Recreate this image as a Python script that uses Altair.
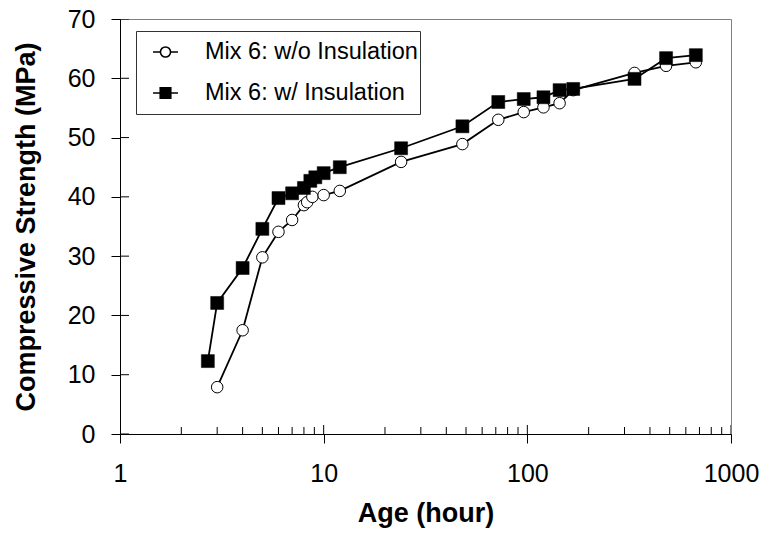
import altair as alt
import pandas as pd

# ---- data ----
series_names = ["Mix 6: w/o Insulation", "Mix 6: w/ Insulation"]

age_wo = [3, 4, 5, 6, 7, 8, 8.3, 8.8, 10, 12, 24, 48, 72, 96, 120, 144, 168, 336, 480, 672]
str_wo = [7.9, 17.5, 29.8, 34.1, 36.1, 38.6, 39.1, 40.0, 40.3, 41.0, 45.9, 48.9, 53.0, 54.3, 55.1, 55.8, 58.0, 60.9, 62.1, 62.7]

age_w = [2.7, 3, 4, 5, 6, 7, 8, 8.6, 9.1, 10, 12, 24, 48, 72, 96, 120, 144, 168, 336, 480, 672]
str_w = [12.3, 22.1, 28.0, 34.6, 39.8, 40.6, 41.5, 42.7, 43.3, 44.0, 45.0, 48.2, 51.9, 56.0, 56.5, 56.8, 58.0, 58.2, 59.9, 63.4, 63.9]

y_ticks = [0, 10, 20, 30, 40, 50, 60, 70]
x_major = [1, 10, 100, 1000]
x_minor = [2, 3, 4, 5, 6, 7, 8, 9, 20, 30, 40, 50, 60, 70, 80, 90,
           200, 300, 400, 500, 600, 700, 800, 900]

df = pd.DataFrame({
    "age": age_wo + age_w,
    "strength": str_wo + str_w,
    "series": [series_names[0]] * len(age_wo) + [series_names[1]] * len(age_w),
})
df_minor = pd.DataFrame({"v": x_minor})
df_major = pd.DataFrame({"v": x_major})
df_yt = pd.DataFrame({"v": y_ticks})

FONT = "Liberation Sans"
W, H = 611, 415

xscale = alt.Scale(type="log", domain=[1, 1000], nice=False)
yscale = alt.Scale(domain=[0, 70], nice=False, zero=False)

xaxis = alt.Axis(values=x_major, format="d", title="Age (hour)", grid=False,
                 labelFont=FONT, labelFontSize=25, labelColor="black", labelPadding=18,
                 labelFlush=False, labelOverlap=False,
                 tickSize=9, tickColor="black", tickWidth=1,
                 domainColor="black", domainWidth=1,
                 titleFont=FONT, titleFontSize=27, titleFontWeight="bold",
                 titleColor="black", titlePadding=14)
yaxis = alt.Axis(values=y_ticks, title="Compressive Strength (MPa)", grid=False,
                 labelFont=FONT, labelFontSize=25, labelColor="black", labelPadding=16,
                 tickSize=9, tickColor="black", tickWidth=1,
                 domainColor="black", domainWidth=1,
                 titleFont=FONT, titleFontSize=27, titleFontWeight="bold",
                 titleColor="black", titlePadding=27)


def X(field):
    return alt.X(field, type="quantitative", scale=xscale, axis=xaxis)


def Y(field):
    return alt.Y(field, type="quantitative", scale=yscale, axis=yaxis)


# inward ticks (clipped to plot area)
minor_ticks = alt.Chart(df_minor).mark_tick(
    orient="vertical", size=14, thickness=1, color="black", clip=True, opacity=1
).encode(x=X("v"), y=alt.YDatum(0, type="quantitative", scale=yscale, axis=yaxis))

major_ticks = alt.Chart(df_major).mark_tick(
    orient="vertical", size=18, thickness=1, color="black", clip=True, opacity=1
).encode(x=X("v"), y=alt.YDatum(0, type="quantitative", scale=yscale, axis=yaxis))

y_in_ticks = alt.Chart(df_yt).mark_tick(
    orient="horizontal", size=18, thickness=1, color="black", clip=True, opacity=1
).encode(y=Y("v"), x=alt.XDatum(1, type="quantitative", scale=xscale, axis=xaxis))

base = alt.Chart(df)

lines = base.mark_line(color="black", strokeWidth=1.8).encode(
    x=X("age"), y=Y("strength"), detail="series:N"
)

circles = base.transform_filter(
    alt.datum.series == series_names[0]
).mark_point(shape="circle", size=133, fill="white", stroke="black",
             strokeWidth=1, opacity=1, filled=False).encode(x=X("age"), y=Y("strength"))

squares = base.transform_filter(
    alt.datum.series == series_names[1]
).mark_point(shape="square", size=169, fill="black", stroke="black",
             strokeWidth=0.5, opacity=1, filled=True).encode(x=X("age"), y=Y("strength"))

# legend symbols: line + marker
path_circle = ("M-0.64,0H-0.26M0.26,0H0.64"
               "M-0.26,0A0.26,0.26,0,1,0,0.26,0A0.26,0.26,0,1,0,-0.26,0Z")
path_square = "M-0.64,0H0.64M-0.27,-0.27H0.27V0.27H-0.27Z"

leg = alt.Legend(title=None, orient="none", legendX=16, legendY=12,
                 padding=2, strokeColor="#333333", fillColor="white",
                 labelFont=FONT, labelFontSize=23.5, labelColor="black", labelLimit=0,
                 symbolSize=1521, symbolStrokeWidth=1.6, symbolStrokeColor="black",
                 symbolOpacity=1, rowPadding=3, clipHeight=38,
                 labelOffset=19, symbolOffset=7, cornerRadius=0)

legend_layer = base.mark_point(opacity=0, size=10, filled=False).encode(
    x=X("age"), y=Y("strength"),
    shape=alt.Shape("series:N", scale=alt.Scale(domain=series_names,
                                                range=[path_circle, path_square]),
                    legend=leg),
    fill=alt.Fill("series:N", scale=alt.Scale(domain=series_names,
                                              range=["white", "black"]),
                  legend=leg),
    stroke=alt.Stroke("series:N", scale=alt.Scale(domain=series_names,
                                                  range=["black", "black"]),
                      legend=leg),
)

chart = alt.layer(
    minor_ticks, major_ticks, y_in_ticks, lines, circles, squares, legend_layer
).properties(
    width=W, height=H,
    padding={"left": 120, "top": 19, "right": 34, "bottom": 103},
    autosize=alt.AutoSizeParams(type="none"),
    background="white",
).configure_view(stroke="#808080", strokeWidth=1)

chart.save("out.html", embed_options={"renderer": "svg", "actions": False})
